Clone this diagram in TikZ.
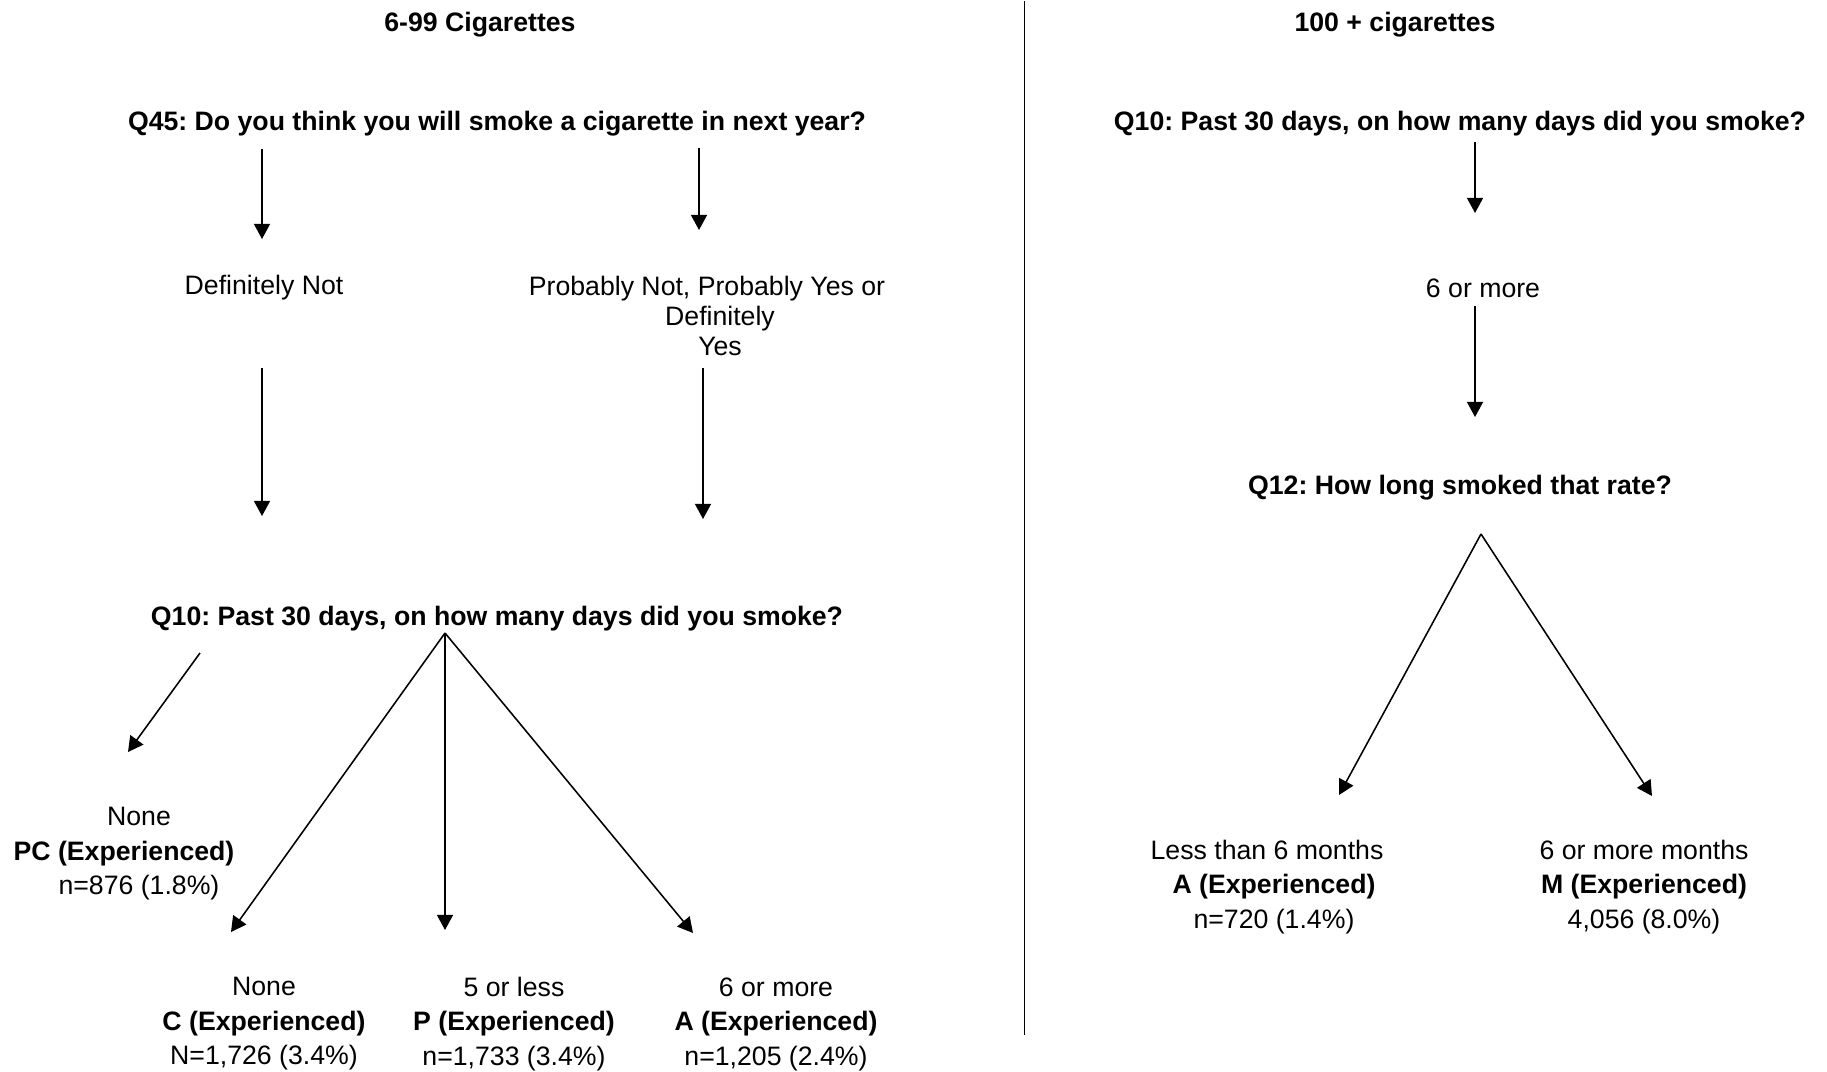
\documentclass[tikz,border=0pt]{standalone}
\usepackage{fontspec}
\setmainfont{Liberation Sans}
\usetikzlibrary{arrows.meta}
\frenchspacing

\begin{document}
\begin{tikzpicture}[x=0.45pt, y=-0.45pt,
			>={Triangle[length=6.8pt,width=7.2pt]},   %Voreinstellung für Pfeilspitzen
			txt/.style={inner sep=0pt, align=center, font=\fontsize{12}{15.5}\selectfont},
			head/.style={txt, font=\fontsize{12}{15.5}\selectfont\bfseries},
			arr/.style={->, line width=0.7pt}]
			\useasboundingbox (0,0) rectangle (1827,1071);
			%Trennlinie zeichnen
			\draw[line width=0.8pt] (1024.5,1) -- (1024.5,1035);
			% Überschriften
			\node[head] (h699) at (480,25) {6-99 Cigarettes};
			\node[head] (h100) at (1395,25) {100 + cigarettes};
			% Linke Seite: Fragen und Antworten
			\node[head] (q45) at (497,124) {Q45: Do you think you will smoke a cigarette in next year?};
			\node[txt] (defnot) at (264,288) {Definitely Not};
			\node[txt, font=\fontsize{12}{13.7}\selectfont] (probably) at (707,316) {Probably Not, Probably Yes or\\\hspace*{11.7pt}Definitely\\\hspace*{11.7pt}Yes};
			\node[head] (q10l) at (497,619) {Q10: Past 30 days, on how many days did you smoke?};
			\node[txt] (pc) at (139,854) {None\\\textbf{PC (Experienced)}\hspace*{13.5pt}\mbox{}\\n=876 (1.8\%)};
			\node[txt] (c) at (264,1024) {None\\\textbf{C (Experienced)}\\N=1,726 (3.4\%)};
			\node[txt] (p) at (514,1024) {5 or less\\\textbf{P (Experienced)}\\n=1,733 (3.4\%)};
			\node[txt] (a) at (776,1024) {6 or more\\\textbf{A (Experienced)}\\n=1,205 (2.4\%)};
			% Rechte Seite
			\node[head] (q10r) at (1460,124) {Q10: Past 30 days, on how many days did you smoke?};
			\node[txt] (sixmore) at (1483,288) {6 or more};
			\node[head] (q12) at (1460,488) {Q12: How long smoked that rate?};
			\node[txt] (less) at (1267,887) {Less than 6 months\\\hspace*{6.3pt}\textbf{A (Experienced)}\\\hspace*{6.3pt}n=720 (1.4\%)};
			\node[txt] (more) at (1644,887) {6 or more months\\\textbf{M (Experienced)}\\4,056 (8.0\%)};
			% Pfeilenden
			\coordinate (q45a) at (262,149);  \coordinate (defa) at (262,239);
			\coordinate (q45b) at (699,148);  \coordinate (proa) at (699,230);
			\coordinate (defb) at (262,368);  \coordinate (q10a) at (262,516);
			\coordinate (prob) at (703,368);  \coordinate (q10b) at (703,519);
			\coordinate (pcs) at (200,653);   \coordinate (pce) at (128,752);
			\coordinate (fanl) at (445,633);
			\coordinate (ce) at (231,932);    \coordinate (pe) at (445,930);    \coordinate (ae) at (693,933);
			\coordinate (q10c) at (1475,142); \coordinate (sixa) at (1475,213);
			\coordinate (sixb) at (1475,306); \coordinate (q12a) at (1475,417);
			\coordinate (fanr) at (1481,534);
			\coordinate (lesse) at (1339,795); \coordinate (moree) at (1652,796);
			% Pfeile zeichnen
			\draw[arr] (q45a) -- (defa);
			\draw[arr] (q45b) -- (proa);
			\draw[arr] (defb) -- (q10a);
			\draw[arr] (prob) -- (q10b);
			\draw[arr] (pcs) -- (pce);
			\foreach \e in {ce,pe,ae} \draw[arr] (fanl) -- (\e);
			\draw[arr] (q10c) -- (sixa);
			\draw[arr] (sixb) -- (q12a);
			\foreach \e in {lesse,moree} \draw[arr] (fanr) -- (\e);
		\end{tikzpicture}
\end{document}
